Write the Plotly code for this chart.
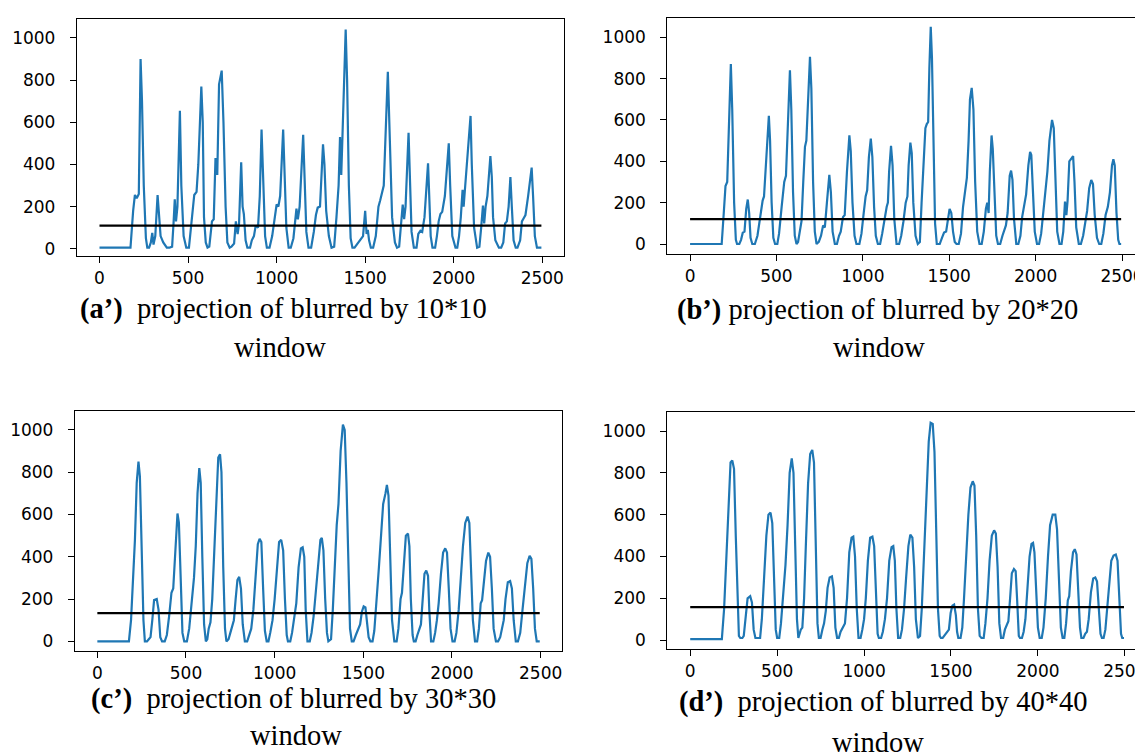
import plotly.graph_objects as go

# ---------------- data ----------------
# (a') blurred by 10*10 window
xa = [0, 175, 190, 200, 210, 222, 232, 240, 250, 262, 270,
      280, 290, 298, 305, 315, 328, 335, 345, 360, 380,
      395, 410, 418, 425, 432, 440, 454, 462, 475, 490,
      505, 515, 525, 535, 548, 558, 575, 583, 590, 600, 610,
      620, 635, 645, 655, 665, 675, 690, 700, 712, 722, 735,
      745, 760, 770, 780, 788, 800, 808, 815, 825, 835,
      850, 860, 872, 882, 895, 905, 915, 925, 935, 945,
      960, 975, 990, 1000, 1010, 1020, 1037, 1045, 1055, 1068,
      1080, 1095, 1105, 1112, 1120, 1130, 1150, 1158, 1168, 1180,
      1195, 1210, 1222, 1232, 1245, 1262, 1270, 1280, 1295, 1310,
      1325, 1338, 1350, 1358, 1365, 1372, 1380, 1390, 1398, 1408, 1418, 1428,
      1440, 1460, 1475, 1488, 1500, 1508, 1515, 1522, 1532,
      1545, 1560, 1575, 1585, 1595, 1605, 1628, 1638, 1652, 1668, 1680,
      1692, 1702, 1712, 1720, 1728, 1745, 1752, 1762, 1775,
      1790, 1800, 1812, 1822, 1835, 1855, 1862, 1870, 1880,
      1895, 1905, 1915, 1925, 1935, 1950, 1972, 1980, 1992, 2010,
      2020, 2030, 2040, 2050, 2056, 2065, 2095, 2102, 2115, 2132,
      2145, 2155, 2165, 2172, 2180, 2190, 2207, 2215, 2222, 2235, 2255,
      2268, 2280, 2290, 2300, 2310, 2320, 2328, 2338, 2350,
      2360, 2375, 2385, 2395, 2405, 2420, 2440, 2448, 2458, 2470, 2495]
ya = [5, 5, 180, 255, 240, 260, 900, 700, 300, 50, 5,
      5, 30, 75, 20, 60, 255, 150, 60, 30, 5,
      5, 10, 120, 235, 130, 200, 655, 300, 60, 5,
      5, 100, 195, 255, 270, 400, 770, 600, 150, 30, 5,
      10, 130, 140, 430, 350, 780, 845, 600, 200, 30, 5,
      10, 25, 130, 70, 120, 410, 200, 165, 40, 5,
      5, 40, 60, 110, 100, 250, 565, 300, 60, 5,
      5, 60, 150, 210, 200, 250, 565, 350, 100, 5,
      5, 50, 120, 190, 140, 200, 540, 300, 80, 5,
      5, 80, 160, 195, 200, 495, 400, 180, 60, 5,
      10, 150, 300, 530, 350, 540, 800, 1040, 800, 300, 50, 5,
      5, 30, 45, 60, 180, 70, 90, 40, 5,
      5, 60, 200, 230, 260, 300, 840, 500, 150, 30, 5,
      10, 130, 210, 140, 200, 550, 300, 80, 5,
      5, 70, 85, 80, 150, 405, 250, 60, 5,
      5, 60, 130, 165, 175, 250, 500, 300, 60, 5,
      5, 60, 150, 280, 200, 300, 630, 400, 100, 5,
      10, 100, 205, 120, 200, 250, 440, 340, 150, 40, 5,
      5, 30, 120, 130, 200, 340, 200, 40, 5,
      5, 40, 130, 145, 160, 250, 385, 250, 60, 5, 5]

# (b') blurred by 20*20 window
xb = [0, 183, 195, 205, 215, 225, 236, 244, 255, 265, 272,
      285, 295, 305, 315, 325, 334, 342, 350, 360,
      375, 390, 405, 420, 428, 440, 456, 463, 472, 482, 492,
      505, 515, 530, 545, 555, 565, 578, 586, 596, 606, 616,
      625, 635, 645, 655, 665, 673, 682, 694, 702, 712, 722, 732,
      745, 758, 770, 780, 792, 806, 815, 825, 838,
      850, 862, 872, 885, 895, 908, 922, 930, 940, 952, 963,
      980, 992, 1005, 1016, 1025, 1035, 1046, 1055, 1065, 1075, 1087,
      1100, 1112, 1125, 1138, 1145, 1152, 1163, 1172, 1182, 1195,
      1210, 1222, 1235, 1248, 1258, 1265, 1275, 1283, 1292, 1305, 1318,
      1330, 1340, 1352, 1362, 1370, 1378, 1385, 1393, 1400, 1408, 1418, 1428,
      1445, 1458, 1470, 1482, 1492, 1502, 1512, 1522, 1532, 1542,
      1555, 1568, 1580, 1592, 1602, 1612, 1620, 1630, 1640, 1650, 1662, 1675,
      1688, 1700, 1712, 1720, 1728, 1735, 1745, 1752, 1762, 1772, 1782,
      1795, 1808, 1818, 1828, 1838, 1850, 1858, 1866, 1875, 1888,
      1900, 1912, 1922, 1935, 1945, 1958, 1968, 1975, 1985, 1995, 2008,
      2020, 2032, 2045, 2058, 2068, 2080, 2095, 2105, 2115, 2125, 2138,
      2150, 2160, 2170, 2178, 2185, 2195, 2207, 2217, 2225, 2235, 2250,
      2262, 2275, 2288, 2298, 2310, 2322, 2332, 2342, 2355, 2368,
      2380, 2392, 2405, 2418, 2430, 2442, 2450, 2458, 2468, 2478, 2485, 2495]
yb = [0, 0, 150, 280, 300, 600, 870, 650, 200, 20, 0,
      0, 20, 55, 60, 170, 215, 150, 30, 0,
      0, 40, 130, 210, 230, 420, 620, 500, 200, 30, 0,
      0, 50, 180, 300, 330, 550, 840, 650, 250, 40, 0,
      10, 60, 110, 300, 470, 500, 700, 905, 750, 300, 60, 0,
      10, 40, 90, 80, 200, 335, 250, 60, 0,
      0, 40, 60, 130, 140, 350, 525, 450, 200, 40, 0,
      0, 50, 150, 230, 260, 420, 510, 420, 180, 40, 0,
      0, 50, 120, 180, 200, 350, 475, 380, 120, 0,
      0, 40, 110, 200, 230, 380, 490, 440, 200, 40, 0,
      10, 200, 420, 560, 580, 590, 850, 1050, 900, 500, 100, 0,
      0, 30, 55, 60, 130, 170, 150, 60, 10, 0,
      0, 50, 180, 270, 320, 500, 700, 755, 650, 300, 60, 0,
      0, 60, 170, 200, 150, 350, 525, 460, 200, 40, 0,
      0, 40, 70, 90, 150, 330, 355, 310, 120, 0,
      0, 40, 130, 190, 240, 380, 445, 430, 250, 60, 0,
      0, 50, 160, 280, 350, 500, 600, 560, 300, 60, 0,
      0, 60, 205, 140, 210, 400, 415, 425, 300, 80, 0,
      0, 40, 100, 160, 270, 310, 290, 140, 30, 0,
      0, 50, 140, 180, 250, 380, 410, 380, 150, 20, 0, 0]

# (c') blurred by 30*30 window
xc = [0, 178, 190, 200, 212, 222, 232, 240, 250, 260, 268,
      280, 290, 300, 310, 320, 335, 345, 355, 365,
      380, 392, 405, 418, 428, 440, 452, 460, 470, 480, 490,
      505, 518, 530, 545, 555, 565, 575, 583, 592, 602, 612,
      620, 628, 638, 648, 658, 670, 682, 692, 700, 710, 720, 728,
      740, 750, 760, 770, 780, 790, 800, 810, 820, 832,
      845, 855, 868, 880, 892, 905, 915, 925, 935, 945, 955,
      965, 975, 988, 1000, 1012, 1025, 1037, 1048, 1058, 1068, 1075,
      1088, 1098, 1110, 1122, 1135, 1148, 1158, 1167, 1175, 1185,
      1198, 1208, 1220, 1232, 1245, 1258, 1266, 1275, 1285, 1295, 1303,
      1318, 1328, 1338, 1350, 1360, 1372, 1385, 1395, 1405, 1415, 1425, 1435,
      1445, 1458, 1470, 1482, 1492, 1502, 1512, 1520, 1530, 1540,
      1552, 1562, 1575, 1588, 1600, 1612, 1625, 1633, 1642, 1652, 1662, 1675,
      1688, 1698, 1710, 1718, 1728, 1740, 1752, 1760, 1768, 1778, 1785,
      1795, 1805, 1815, 1825, 1835, 1845, 1855, 1865, 1872, 1882,
      1895, 1905, 1915, 1925, 1938, 1950, 1962, 1972, 1982, 1992, 2003,
      2015, 2025, 2038, 2050, 2062, 2075, 2088, 2098, 2108, 2118, 2130,
      2142, 2152, 2162, 2170, 2180, 2192, 2205, 2215, 2225, 2235, 2248,
      2260, 2272, 2282, 2292, 2302, 2315, 2328, 2338, 2348, 2360,
      2372, 2385, 2398, 2410, 2425, 2438, 2448, 2458, 2468, 2478, 2495]
yc = [0, 0, 100, 250, 480, 750, 850, 780, 400, 100, 0,
      0, 10, 20, 100, 195, 200, 150, 20, 0,
      0, 30, 120, 230, 250, 450, 605, 560, 250, 40, 0,
      0, 60, 170, 300, 450, 700, 820, 750, 400, 80, 0,
      10, 60, 90, 200, 400, 700, 870, 885, 800, 350, 60, 0,
      10, 40, 70, 100, 200, 290, 305, 250, 80, 0,
      0, 30, 60, 150, 300, 460, 485, 470, 250, 50, 0,
      0, 40, 100, 200, 350, 470, 480, 430, 200, 30, 0,
      0, 40, 100, 180, 350, 440, 445, 400, 150, 0,
      0, 40, 120, 230, 380, 480, 490, 430, 200, 40, 0,
      10, 150, 350, 550, 650, 900, 1025, 1000, 750, 350, 60, 0,
      0, 30, 60, 80, 140, 165, 160, 100, 20, 0,
      0, 50, 180, 350, 500, 650, 700, 740, 690, 400, 100, 0,
      0, 60, 200, 230, 380, 500, 510, 450, 200, 30, 0,
      0, 30, 60, 80, 200, 320, 335, 310, 150, 0,
      0, 40, 100, 180, 320, 420, 440, 420, 250, 60, 0,
      0, 40, 150, 300, 450, 560, 590, 560, 350, 100, 0,
      0, 60, 180, 195, 280, 380, 420, 400, 250, 60, 0,
      0, 20, 60, 100, 200, 280, 285, 250, 100, 0,
      0, 40, 150, 250, 370, 405, 390, 250, 60, 0, 0]

# (d') blurred by 40*40 window
xd = [0, 182, 195, 208, 220, 232, 242, 252, 262, 272, 280, 288,
      300, 308, 318, 330, 345, 355, 365, 375,
      390, 402, 412, 425, 438, 450, 462, 472, 482, 492, 500,
      512, 522, 535, 548, 560, 572, 584, 594, 604, 614, 622,
      628, 636, 645, 655, 665, 678, 690, 702, 712, 722, 732, 740,
      750, 760, 770, 780, 790, 802, 815, 825, 835, 845,
      855, 865, 878, 890, 902, 915, 928, 938, 948, 958, 968,
      980, 990, 1000, 1010, 1022, 1035, 1048, 1058, 1068, 1078, 1085,
      1098, 1108, 1120, 1132, 1145, 1158, 1168, 1177, 1186, 1196,
      1208, 1218, 1230, 1242, 1255, 1266, 1278, 1288, 1298, 1310,
      1322, 1332, 1342, 1352, 1362, 1372, 1383, 1395, 1405, 1415, 1425, 1435, 1442,
      1452, 1462, 1475, 1488, 1498, 1508, 1518, 1528, 1535, 1542,
      1555, 1565, 1575, 1588, 1600, 1612, 1625, 1635, 1645, 1655, 1665, 1675,
      1688, 1698, 1710, 1722, 1735, 1748, 1758, 1768, 1778, 1788,
      1800, 1810, 1820, 1830, 1840, 1850, 1862, 1872, 1880, 1890, 1897,
      1908, 1918, 1928, 1940, 1952, 1963, 1972, 1980, 1990, 2000, 2010,
      2022, 2032, 2045, 2058, 2070, 2085, 2100, 2110, 2120, 2132, 2142,
      2152, 2162, 2172, 2180, 2190, 2202, 2212, 2222, 2232, 2242, 2250,
      2262, 2272, 2282, 2292, 2305, 2318, 2330, 2340, 2350, 2360, 2368,
      2378, 2388, 2398, 2410, 2422, 2435, 2448, 2458, 2468, 2478, 2485, 2495]
yd = [5, 5, 150, 400, 700, 850, 860, 820, 500, 150, 20, 10,
      10, 20, 120, 200, 210, 180, 50, 10,
      10, 10, 100, 300, 500, 600, 610, 560, 300, 50, 10,
      10, 80, 220, 360, 550, 800, 870, 800, 450, 100, 10,
      30, 50, 60, 200, 450, 750, 890, 910, 850, 450, 80, 10,
      10, 50, 80, 140, 250, 300, 305, 250, 60, 10,
      10, 40, 60, 80, 200, 420, 490, 495, 400, 150, 10,
      10, 50, 100, 200, 380, 490, 495, 450, 200, 30, 10,
      10, 40, 100, 200, 380, 445, 450, 380, 150, 10,
      10, 50, 150, 300, 450, 505, 490, 350, 100, 10,
      20, 150, 350, 550, 750, 950, 1040, 1035, 900, 500, 150, 20, 10,
      10, 20, 35, 50, 130, 165, 170, 120, 40, 10,
      10, 60, 200, 420, 600, 730, 760, 740, 500, 150, 20, 10,
      10, 80, 200, 380, 500, 525, 510, 350, 80, 10,
      10, 50, 70, 90, 200, 320, 340, 330, 200, 20, 10,
      10, 40, 100, 250, 400, 460, 465, 420, 250, 60, 10,
      10, 60, 200, 400, 550, 600, 600, 530, 300, 60, 10,
      10, 80, 190, 210, 330, 420, 435, 410, 250, 60, 10,
      10, 30, 40, 100, 230, 295, 300, 280, 150, 30, 10,
      10, 50, 150, 300, 380, 405, 410, 380, 200, 30, 10, 10]

# threshold levels (black horizontal lines)
thr_x = [0, 2495]
thr_a = 110
thr_b = 120
thr_c = 134
thr_d = 158

x_ticks = [0, 500, 1000, 1500, 2000, 2500]
y_ticks = [0, 200, 400, 600, 800, 1000]

captions = [
    ("<b>(a’)</b>&nbsp; projection of blurred by 10*10", "window"),
    ("<b>(b’)</b> projection of blurred by 20*20", "window"),
    ("<b>(c’)</b>&nbsp; projection of blurred by 30*30", "window"),
    ("<b>(d’)</b>&nbsp; projection of blurred by 40*40", "window"),
]

# ---------------- figure ----------------
W, H = 1143, 753
BLUE = "#1f77b4"

def px_x(p):
    return p / W

def px_y(p):
    return 1 - p / H

# panel boxes in pixels: (left, right, top, bottom), x range, y range
panels = [
    ((69, 557, 11, 249), [-128, 2620], [-36, 1090], xa, ya, thr_a),
    ((661, 1136, 10, 247), [-132, 2610], [-50, 1093], xb, yb, thr_b),
    ((67, 555, 404, 645), [-127, 2618], [-47, 1090], xc, yc, thr_c),
    ((661, 1140, 405, 643), [-132, 2616], [-44, 1092], xd, yd, thr_d),
]

fig = go.Figure()
tickfont = dict(family="DejaVu Sans", size=17, color="black")

for i, (box, xr, yr, xs, ys, thr) in enumerate(panels):
    n = "" if i == 0 else str(i + 1)
    l, r, t, b = box
    fig.add_trace(go.Scatter(x=xs, y=ys, mode="lines",
                             line=dict(color=BLUE, width=2.2),
                             xaxis="x" + n, yaxis="y" + n, showlegend=False))
    fig.add_trace(go.Scatter(x=thr_x, y=[thr, thr], mode="lines",
                             line=dict(color="black", width=2.2),
                             xaxis="x" + n, yaxis="y" + n, showlegend=False))
    ax = dict(domain=[px_x(l), px_x(r)], range=xr, anchor="y" + n,
              showline=True, mirror=True, linecolor="black", linewidth=1,
              ticks="outside", ticklen=6, tickwidth=1, tickcolor="black",
              tickvals=x_ticks, showgrid=False, zeroline=False,
              tickfont=tickfont, ticklabelstandoff=0)
    ay = dict(domain=[px_y(b), px_y(t)], range=yr, anchor="x" + n,
              showline=True, mirror=True, linecolor="black", linewidth=1,
              ticks="outside", ticklen=6, tickwidth=1, tickcolor="black",
              tickvals=y_ticks, showgrid=False, zeroline=False,
              tickfont=tickfont, ticklabelstandoff=11)
    fig.layout["xaxis" + n] = ax
    fig.layout["yaxis" + n] = ay

cap_font = dict(family="Liberation Serif", size=28.5, color="black")
cap_pos = [((276, 302), (273, 340)),
           ((872, 303), (873, 340)),
           ((286, 693), (289, 729)),
           ((877, 696), (872, 736))]
for (l1, l2), ((x1, y1), (x2, y2)) in zip(captions, cap_pos):
    fig.add_annotation(text=l1, x=px_x(x1), y=px_y(y1), xref="paper", yref="paper",
                       showarrow=False, xanchor="center", yanchor="middle", font=cap_font)
    fig.add_annotation(text=l2, x=px_x(x2), y=px_y(y2), xref="paper", yref="paper",
                       showarrow=False, xanchor="center", yanchor="middle", font=cap_font)

fig.update_layout(width=W, height=H, margin=dict(l=0, r=0, t=0, b=0),
                  paper_bgcolor="white", plot_bgcolor="white", showlegend=False)

fig.write_html("out.html")
